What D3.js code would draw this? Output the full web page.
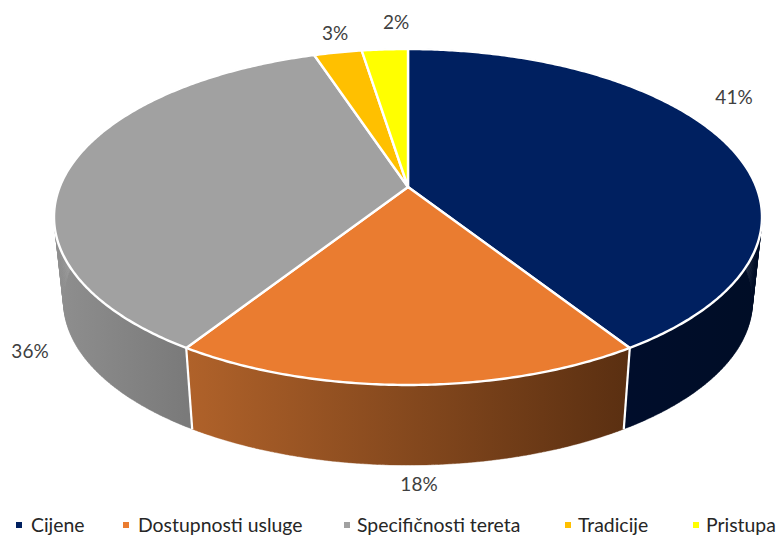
<!DOCTYPE html>
<html><head><meta charset="utf-8">
<script src="https://cdn.jsdelivr.net/npm/d3@7"></script>
<style>html,body{margin:0;padding:0;background:#fff}svg{display:block}text{font-family:Lato,"Open Sans",sans-serif}</style>
</head><body><svg id="c" width="778" height="536"></svg>
<script>
const categories=["Cijene","Dostupnosti usluge","Specifičnosti tereta","Tradicije","Pristupa"];
const values=[40.9,18.2,35.8,2.6,2.5];
const valueLabels=["41%","18%","36%","3%","2%"];
const colors=["#002060","#ea7c30","#a1a1a1","#ffc000","#ffff00"];
const sideFrom=["#000d2b","#b0622a","#8f8f8f","#997300","#999900"];
const sideTo=["#000d26","#5a2f11","#7a7a7a","#997300","#999900"];
// layout
const apexX=408,apexY=187,k=0.1786,A=348.3,B=162.6,depthScale=0.973,depthY=85.5;
const labelAt=[[734,97],[419,484],[30,351],[335,33],[396,22]];
const legendSwatchX=[19,126,347,568,696],legendTextX=[31,138,357,578,706],legendY=525;

const svg=d3.select("#c");
const defs=svg.append("defs");
const pie=d3.pie().sort(null).value(d=>d);
const arcs=pie(values);
const scaleX=d3.scaleLinear().domain([0,1]).range([apexX,apexX+A]);
const scaleY=d3.scaleLinear().domain([0,1]).range([apexY,apexY+B]);
function topPt(t){const u=Math.sin(t),v=-Math.cos(t),w=1-k*v;return [scaleX(u/w),scaleY(v/w)];}
function botPt(t){const p=topPt(t);return [apexX+(p[0]-apexX)*depthScale,apexY+depthY+(p[1]-apexY)*depthScale];}
const line=d3.line();
function ts(a,b){const n=Math.max(2,Math.ceil((b-a)/0.01));return d3.range(n+1).map(i=>a+(b-a)*i/n);}

arcs.forEach((d,i)=>{
  const g=defs.append("linearGradient").attr("id","s"+i).attr("gradientUnits","userSpaceOnUse");
  const all=ts(d.startAngle,d.endAngle);
  const visible=all.filter(t=>Math.cos(t)<0.2);
  const ex=d3.extent(visible.length?visible:all,t=>topPt(t)[0]);
  g.attr("x1",ex[0]).attr("x2",ex[1]).attr("y1",0).attr("y2",0);
  g.append("stop").attr("offset",0).attr("stop-color",sideFrom[i]);
  g.append("stop").attr("offset",1).attr("stop-color",sideTo[i]);
});

// side walls: one strip of quads per slice, so the silhouette tangent is filled
const sides=svg.append("g");
arcs.forEach(d=>{
  const i=d.index;
  const tt=ts(d.startAngle,d.endAngle);
  let path="";
  for(let j=0;j<tt.length-1;j++){
    path+=line([topPt(tt[j]),topPt(tt[j+1]),botPt(tt[j+1]),botPt(tt[j])])+"Z";
  }
  sides.append("path").attr("d",path).attr("fill",`url(#s${i})`).attr("stroke",`url(#s${i})`).attr("stroke-width",0.4);
});
// white seams on the visible edges between walls
arcs.forEach(d=>{
  if(Math.cos(d.endAngle)<-0.3){
    sides.append("path").attr("d",line([topPt(d.endAngle),botPt(d.endAngle)])).attr("stroke","#fff").attr("stroke-width",2.2).attr("fill","none");
  }
});
// top faces
const tops=svg.append("g");
arcs.forEach(d=>{
  const i=d.index;
  const pts=[[apexX,apexY]].concat(ts(d.startAngle,d.endAngle).map(t=>topPt(t)));
  tops.append("path").attr("d",line(pts)+"Z").attr("fill",colors[i]).attr("stroke","#fff").attr("stroke-width",2.4).attr("stroke-linejoin","round");
});
// labels
const labels=svg.append("g").attr("font-size",19).attr("fill","#404040").attr("text-anchor","middle");
valueLabels.forEach((t,i)=>labels.append("text").attr("x",labelAt[i][0]).attr("y",labelAt[i][1]+6.5).text(t));
// legend
const leg=svg.append("g");
categories.forEach((c,i)=>{
  leg.append("rect").attr("x",legendSwatchX[i]-3).attr("y",legendY-3).attr("width",6).attr("height",6).attr("fill",colors[i]);
  leg.append("text").attr("x",legendTextX[i]).attr("y",legendY+6.5).attr("font-size",19.4).attr("fill","#262626").text(c);
});
</script></body></html>
